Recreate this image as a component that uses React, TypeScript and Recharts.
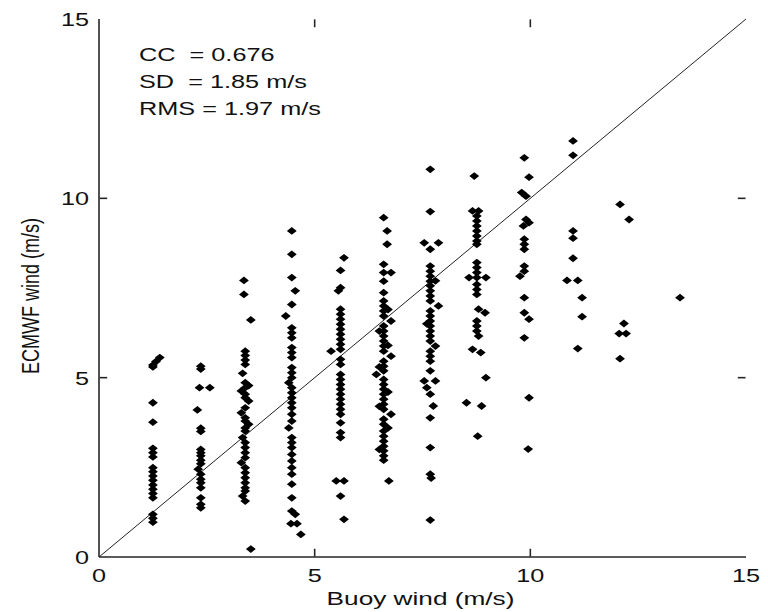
import React from 'react';
import { ScatterChart, Scatter, XAxis, YAxis, ReferenceLine } from 'recharts';

const axisTicks = [0, 5, 10, 15];
const innerTicks = [5, 10];
const statLines = ['CC  = 0.676', 'SD  = 1.85 m/s', 'RMS = 1.97 m/s'];
const xTitle = 'Buoy wind (m/s)';
const yTitle = 'ECMWF wind (m/s)';

// [buoy, ecmwf] pairs, grouped by buoy wind bin
const bin1 = [
  [1.41, 5.56], [1.32, 5.45], [1.25, 5.35], [1.25, 5.3], [1.25, 4.3], [1.25, 3.76], [1.25, 3.03],
  [1.25, 2.91], [1.25, 2.79], [1.25, 2.49], [1.25, 2.38], [1.25, 2.26], [1.25, 2.14], [1.25, 2.01],
  [1.25, 1.89], [1.25, 1.77], [1.25, 1.65], [1.25, 1.19], [1.25, 1.08], [1.25, 0.97],
];
const bin2 = [
  [2.36, 5.32], [2.36, 5.24], [2.33, 4.72], [2.57, 4.72], [2.28, 4.1], [2.36, 3.59], [2.36, 3.5],
  [2.36, 3.0], [2.36, 2.91], [2.36, 2.82], [2.36, 2.7], [2.36, 2.6], [2.3, 2.45], [2.36, 2.31],
  [2.36, 2.17], [2.36, 2.07], [2.36, 1.93], [2.36, 1.65], [2.36, 1.47], [2.36, 1.37],
];
const bin3 = [
  [3.36, 7.71], [3.36, 7.32], [3.52, 6.61], [3.39, 5.74], [3.39, 5.62], [3.39, 5.49], [3.39, 5.37],
  [3.33, 5.12], [3.39, 4.86], [3.47, 4.78], [3.39, 4.72], [3.3, 4.63], [3.39, 4.54], [3.39, 4.44],
  [3.47, 4.35], [3.39, 4.16], [3.3, 4.02], [3.39, 3.88], [3.39, 3.79], [3.47, 3.7], [3.39, 3.6],
  [3.39, 3.51], [3.33, 3.33], [3.39, 3.19], [3.39, 3.05], [3.39, 2.91], [3.39, 2.77], [3.3, 2.63],
  [3.39, 2.49], [3.39, 2.35], [3.39, 2.21], [3.39, 2.07], [3.39, 1.93], [3.39, 1.84], [3.33, 1.7],
  [3.39, 1.56], [3.52, 0.22],
];
const bin4 = [
  [4.47, 9.09], [4.47, 8.44], [4.47, 7.79], [4.55, 7.42], [4.47, 7.04], [4.33, 6.72], [4.47, 6.39],
  [4.47, 6.25], [4.47, 6.11], [4.47, 5.84], [4.47, 5.7], [4.47, 5.56], [4.47, 5.28], [4.47, 5.14],
  [4.47, 5.0], [4.4, 4.86], [4.47, 4.72], [4.47, 4.58], [4.47, 4.44], [4.47, 4.3], [4.47, 4.16],
  [4.47, 3.98], [4.47, 3.79], [4.4, 3.6], [4.47, 3.33], [4.47, 3.19], [4.47, 3.05], [4.47, 2.86],
  [4.47, 2.68], [4.47, 2.49], [4.47, 2.31], [4.47, 2.03], [4.47, 1.65], [4.47, 1.28], [4.55, 1.19],
  [4.45, 0.93], [4.59, 0.93], [4.68, 0.63],
];
const bin5 = [
  [5.68, 8.34], [5.6, 7.99], [5.6, 7.51], [5.55, 7.42], [5.6, 6.91], [5.6, 6.77], [5.6, 6.63],
  [5.6, 6.49], [5.6, 6.35], [5.6, 6.21], [5.6, 6.07], [5.6, 5.93], [5.6, 5.79], [5.38, 5.74],
  [5.6, 5.51], [5.6, 5.37], [5.6, 5.09], [5.6, 4.95], [5.6, 4.81], [5.6, 4.68], [5.6, 4.54],
  [5.6, 4.4], [5.6, 4.26], [5.6, 4.12], [5.6, 3.98], [5.6, 3.74], [5.6, 3.47], [5.6, 3.33],
  [5.5, 2.12], [5.68, 2.12], [5.6, 1.7], [5.68, 1.05],
];
const bin6 = [
  [6.6, 9.46], [6.68, 9.09], [6.68, 8.72], [6.6, 8.16], [6.6, 7.93], [6.77, 7.93], [6.6, 7.69],
  [6.6, 7.37], [6.6, 7.14], [6.6, 7.0], [6.7, 6.9], [6.6, 6.86], [6.6, 6.72], [6.77, 6.58],
  [6.6, 6.44], [6.5, 6.3], [6.6, 6.3], [6.6, 6.16], [6.6, 6.02], [6.7, 5.9], [6.6, 5.88],
  [6.6, 5.74], [6.77, 5.6], [6.6, 5.46], [6.6, 5.32], [6.5, 5.3], [6.6, 5.19], [6.43, 5.09],
  [6.6, 4.95], [6.6, 4.81], [6.6, 4.68], [6.7, 4.6], [6.6, 4.54], [6.6, 4.4], [6.6, 4.26],
  [6.5, 4.2], [6.6, 4.12], [6.77, 3.98], [6.6, 3.84], [6.6, 3.7], [6.7, 3.6], [6.6, 3.51],
  [6.6, 3.37], [6.6, 3.23], [6.6, 3.09], [6.5, 3.0], [6.6, 2.96], [6.6, 2.82], [6.6, 2.7], [6.72, 2.12],
];
const bin7 = [
  [7.68, 10.81], [7.68, 9.63], [7.54, 8.76], [7.87, 8.76], [7.68, 8.58], [7.68, 8.11], [7.68, 7.97],
  [7.68, 7.83], [7.8, 7.7], [7.68, 7.69], [7.68, 7.56], [7.68, 7.42], [7.68, 7.28], [7.68, 7.14],
  [7.87, 7.0], [7.68, 6.86], [7.68, 6.72], [7.68, 6.58], [7.6, 6.5], [7.68, 6.44], [7.68, 6.3],
  [7.68, 6.16], [7.68, 6.02], [7.8, 5.88], [7.68, 5.74], [7.68, 5.6], [7.68, 5.46], [7.68, 5.19],
  [7.54, 4.91], [7.8, 4.91], [7.6, 4.72], [7.68, 4.54], [7.75, 4.21], [7.68, 3.88], [7.68, 3.05],
  [7.68, 2.31], [7.7, 2.2], [7.68, 1.03],
];
const bin8 = [
  [8.7, 10.62], [8.66, 9.65], [8.8, 9.65], [8.76, 9.51], [8.76, 9.37], [8.76, 9.23], [8.76, 9.09],
  [8.76, 8.95], [8.76, 8.81], [8.76, 8.72], [8.76, 8.21], [8.76, 8.07], [8.76, 7.93], [8.58, 7.79],
  [8.76, 7.79], [8.97, 7.79], [8.76, 7.6], [8.76, 7.46], [8.76, 7.32], [8.8, 6.91], [8.95, 6.81],
  [8.76, 6.58], [8.76, 6.44], [8.76, 6.3], [8.8, 6.16], [8.66, 5.79], [8.85, 5.7], [8.97, 5.0],
  [8.52, 4.3], [8.87, 4.21], [8.78, 3.37],
];
const bin9 = [
  [9.86, 11.13], [9.97, 10.59], [9.8, 10.16], [9.9, 10.06], [9.9, 9.41], [9.97, 9.32], [9.84, 9.23],
  [9.86, 8.86], [9.86, 8.72], [9.86, 8.58], [9.86, 8.11], [9.86, 7.97], [9.76, 7.83], [9.86, 7.23],
  [9.86, 6.81], [9.97, 6.63], [9.86, 6.11], [9.97, 4.44], [9.95, 3.01],
];
const bin10 = [
  [10.99, 11.6], [10.99, 11.2], [10.99, 9.09], [10.99, 8.89], [10.99, 8.33], [10.85, 7.71],
  [11.1, 7.71], [11.2, 7.23], [11.2, 6.7], [11.1, 5.81],
];
const bin11 = [[12.08, 9.83], [12.29, 9.41], [12.17, 6.51], [12.06, 6.23], [12.22, 6.23], [12.08, 5.53]];
const bin12 = [[13.47, 7.23]];

const points = [bin1, bin2, bin3, bin4, bin5, bin6, bin7, bin8, bin9, bin10, bin11, bin12]
  .flat()
  .map(([x, y]) => ({ x, y }));

const FONT = '"Liberation Sans", Arial, Helvetica, sans-serif';
const SX = 1.33; // the original picture is stretched sideways
const INK = '#111';
const FRAME = '#262626';
// inward tick length in data units (about 8px each way); start a hair off the edge
const TX = 0.19;
const TY = 0.23;
const EDGE = 0.01;

const Diamond = (props: any) => {
  const { cx, cy } = props;
  return (
    <polygon
      points={`${cx - 4.9},${cy} ${cx},${cy - 3.9} ${cx + 4.9},${cy} ${cx},${cy + 3.9}`}
      fill="#000"
    />
  );
};

// tick labels are placed from the fixed plot edges so they do not depend on tick line sizes
const XTick = ({ x, payload }: any) => (
  <text
    transform={`translate(${x},582) scale(${SX},1)`}
    textAnchor="middle"
    fontSize={19}
    fontFamily={FONT}
    fill={INK}
  >
    {payload.value}
  </text>
);

const YTick = ({ y, payload }: any) => (
  <text
    transform={`translate(89,${y + 7}) scale(${SX},1)`}
    textAnchor="end"
    fontSize={19}
    fontFamily={FONT}
    fill={INK}
  >
    {payload.value}
  </text>
);

const NoTick = () => <g />;

const XTitle = (props: any) => {
  const vb = props.viewBox || { x: 99, y: 557, width: 647, height: 55 };
  return (
    <text
      transform={`translate(${vb.x + vb.width / 2 - 2},605) scale(${SX + 0.05},1)`}
      textAnchor="middle"
      fontSize={19}
      fontFamily={FONT}
      fill={INK}
    >
      {xTitle}
    </text>
  );
};

const YTitle = (props: any) => {
  const vb = props.viewBox || { x: 0, y: 19, width: 99, height: 538 };
  return (
    <text
      transform={`translate(39,${vb.y + vb.height / 2 + 8}) scale(${SX},1) rotate(-90)`}
      textAnchor="middle"
      fontSize={18}
      fontFamily={FONT}
      fill={INK}
    >
      {yTitle}
    </text>
  );
};

const frameLine = { stroke: FRAME, strokeWidth: 1.6 };

export default function App() {
  return (
    <div style={{ position: 'absolute', left: 0, top: 0, width: 768, height: 612, background: '#fff' }}>
      <ScatterChart width={768} height={612} margin={{ top: 19, right: 22, bottom: 0, left: 0 }}>
        <XAxis
          dataKey="x"
          type="number"
          domain={[0, 15]}
          ticks={axisTicks}
          height={55}
          tickLine={false}
          tick={<XTick />}
          axisLine={frameLine}
          label={<XTitle />}
        />
        <XAxis
          xAxisId="top"
          orientation="top"
          type="number"
          domain={[0, 15]}
          ticks={axisTicks}
          height={0}
          tickLine={false}
          tick={<NoTick />}
          axisLine={frameLine}
        />
        <YAxis
          dataKey="y"
          type="number"
          domain={[0, 15]}
          ticks={axisTicks}
          width={99}
          tickLine={false}
          tick={<YTick />}
          axisLine={frameLine}
          label={<YTitle />}
        />
        <YAxis
          yAxisId="right"
          orientation="right"
          type="number"
          domain={[0, 15]}
          ticks={axisTicks}
          width={0}
          tickLine={false}
          tick={<NoTick />}
          axisLine={frameLine}
        />
        {innerTicks.map((t) => (
          <ReferenceLine key={`b${t}`} segment={[{ x: t, y: EDGE }, { x: t, y: TY }]} ifOverflow="visible" {...frameLine} />
        ))}
        {innerTicks.map((t) => (
          <ReferenceLine key={`t${t}`} segment={[{ x: t, y: 15 - EDGE }, { x: t, y: 15 - TY }]} ifOverflow="visible" {...frameLine} />
        ))}
        {innerTicks.map((t) => (
          <ReferenceLine key={`l${t}`} segment={[{ x: EDGE, y: t }, { x: TX, y: t }]} ifOverflow="visible" {...frameLine} />
        ))}
        {innerTicks.map((t) => (
          <ReferenceLine key={`r${t}`} segment={[{ x: 15 - EDGE, y: t }, { x: 15 - TX, y: t }]} ifOverflow="visible" {...frameLine} />
        ))}
        <ReferenceLine
          segment={[{ x: 0, y: 0 }, { x: 15, y: 15 }]}
          stroke="#222"
          strokeWidth={1}
          ifOverflow="visible"
        />
        <Scatter data={points} shape={<Diamond />} isAnimationActive={false} />
      </ScatterChart>
      <div
        style={{
          position: 'absolute',
          left: 139,
          top: 41,
          fontFamily: FONT,
          fontSize: 19,
          lineHeight: '27px',
          color: INK,
          whiteSpace: 'pre',
          transform: `scaleX(${SX})`,
          transformOrigin: 'left top',
        }}
      >
        {statLines.map((s) => (
          <div key={s}>{s}</div>
        ))}
      </div>
    </div>
  );
}
